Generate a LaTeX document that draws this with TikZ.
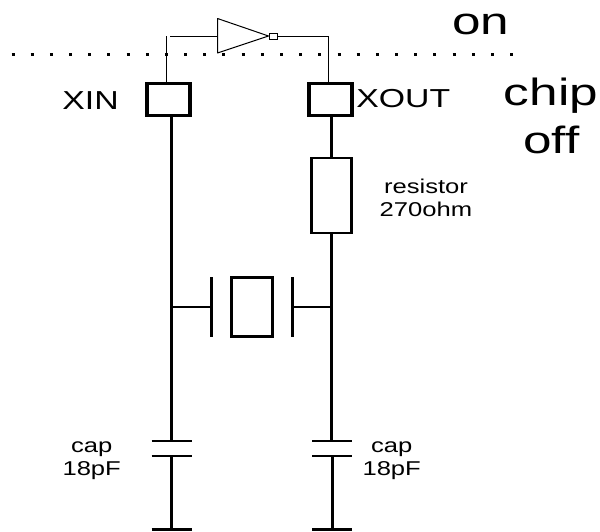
\documentclass[tikz,border=0pt]{standalone}
\usepackage{fontspec}
\setmainfont{Liberation Sans}
\tikzset{
  pad/.style={draw,line width=3.2pt,minimum width=43,minimum height=31.5,inner sep=0pt},
  part/.style={draw,line width=2.8pt,inner sep=0pt},
  lead/.style={line width=3pt},
  stub/.style={line width=2.4pt},
  thin wire/.style={line width=1pt},
  plate/.style={line width=3pt},
  cap plate/.style={line width=2.4pt},
  pin label/.style={font=\fontsize{26}{30}\selectfont,inner sep=0pt,xscale=1.3,transform shape},
  small label/.style={font=\fontsize{20}{23}\selectfont,align=center,inner sep=0pt,xscale=1.28,transform shape},
  big label/.style={font=\fontsize{38}{44}\selectfont,inner sep=0pt,xscale=1.35,transform shape}
}
\begin{document}
\begin{tikzpicture}[x=1pt,y=-1pt]
  \useasboundingbox (0,0) rectangle (600,531);
  % chip boundary
  \coordinate (edgeL) at (11.5,54);
  \coordinate (edgeR) at (516,54);
  \draw[line width=3pt,dash pattern=on 3pt off 16.18pt] (edgeL) -- (edgeR);
  % pads
  \node[pad] (xin) at (168.5,99.5) {};
  \node[pad] (xout) at (330.5,99.5) {};
  % inverter
  \coordinate (invA) at (217.5,18.5);
  \coordinate (invB) at (217.5,53);
  \coordinate (invIn) at (217.5,36);
  \node[draw,line width=1pt,minimum width=8,minimum height=6,inner sep=0pt] (bubble) at (273,36) {};
  \draw[thin wire,line join=round] (invA) -- (bubble.west) -- (invB) -- cycle;
  % thin wires
  \coordinate (xinTop) at (166,36);
  \coordinate (gapEnd) at (170,36);
  \coordinate (xoutTop) at (328,36);
  \draw[thin wire] (xinTop) -- (166,82);
  \draw[thin wire] (gapEnd) -- (invIn);
  \draw[thin wire] (bubble.east) -- (xoutTop) -- (328,82);
  % resistor
  \node[part,minimum width=40,minimum height=75] (resistor) at (331.5,195.5) {};
  \draw[lead] (xout.south -| resistor.north) -- (resistor.north);
  % crystal
  \node[part,minimum width=41,minimum height=59.5] (crystal) at (252,307) {};
  \coordinate (plateLa) at (211.7,277);
  \coordinate (plateLb) at (211.7,337);
  \coordinate (plateRa) at (292,277);
  \coordinate (plateRb) at (292,337);
  \draw[plate] (plateLa) -- (plateLb);
  \draw[plate] (plateRa) -- (plateRb);
  % caps
  \coordinate (capLa) at (171.7,440.7);
  \coordinate (capLb) at (171.7,456);
  \coordinate (capLc) at (171.7,529.5);
  \coordinate (capRa) at (332,440.7);
  \coordinate (capRb) at (332,456);
  \coordinate (capRc) at (332,529.5);
  \foreach \p in {capLa,capLb,capLc,capRa,capRb,capRc}
    \draw[cap plate] ([xshift=-20]\p) -- ([xshift=20]\p);
  % leads
  \draw[lead] (capLa |- xin.south) -- (capLa);
  \draw[lead] (capLb) -- (capLc);
  \draw[lead] (resistor.south) -- (resistor.south |- capRa);
  \draw[lead] (capRb) -- (capRc);
  \draw[stub] (capLa |- crystal.center) -- (plateLa |- crystal.center);
  \draw[stub] (plateRa |- crystal.center) -- (capRa |- crystal.center);
  % text
  \node[pin label,anchor=east] (xinLabel) at (119,100.5) {XIN};
  \node[pin label,anchor=west] (xoutLabel) at (356,99) {XOUT};
  \node[small label] (resLabel) at (426,197.5) {resistor\\270ohm};
  \node[small label] (capL) at (91.7,460.5) {cap\\18pF};
  \node[small label] (capR) at (391.7,460.5) {cap\\18pF};
  \node[big label] (on) at (481,24) {on};
  \node[big label] (chip) at (551,96) {chip};
  \node[big label] (off) at (551.5,139.5) {off};
\end{tikzpicture}
\end{document}
